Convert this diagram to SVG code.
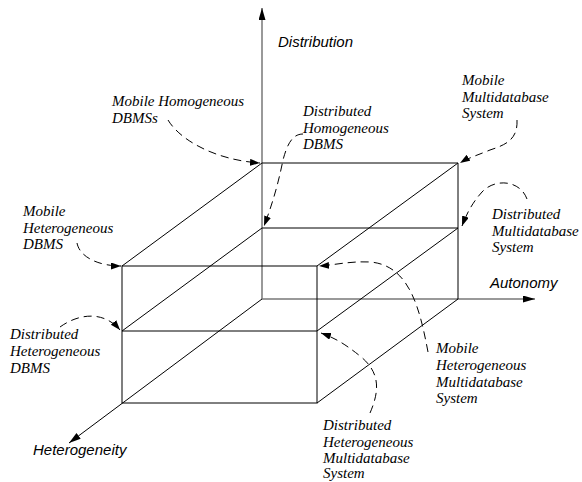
<svg xmlns="http://www.w3.org/2000/svg" width="582" height="482" viewBox="0 0 582 482">
<defs>
<style>
.lbl{font-family:"Liberation Serif","Times New Roman",serif;font-style:italic;font-size:15px;fill:#000}
.ax{font-family:"Liberation Sans",Arial,sans-serif;font-style:italic;font-size:15px;fill:#000}
.edge{stroke:#000;stroke-width:1;fill:none}
.axis{stroke:#777;stroke-width:1.5;fill:none}
.conn{stroke:#000;stroke-width:1;fill:none;stroke-dasharray:8 5}
</style>
<marker id="arr" markerUnits="userSpaceOnUse" markerWidth="11" markerHeight="8" refX="10" refY="3.5" orient="auto">
<path d="M0,0 L10,3.5 L0,7 z" fill="#000"/>
</marker>
<marker id="axarr" markerUnits="userSpaceOnUse" markerWidth="13" markerHeight="8" refX="12" refY="3.5" orient="auto">
<path d="M0,0 L12,3.5 L0,7 z" fill="#000"/>
</marker>
</defs>
<rect width="582" height="482" fill="#fff"/>

<g id="axes">
<line class="axis" x1="262" y1="299" x2="262" y2="8" marker-end="url(#axarr)"/>
<line class="axis" x1="262" y1="299" x2="535" y2="299" marker-end="url(#axarr)"/>
<line class="edge" x1="262" y1="299" x2="69" y2="443" marker-end="url(#axarr)"/>
<text id="distribution" class="ax" x="278" y="47">Distribution</text>
<text id="autonomy" class="ax" x="490" y="288">Autonomy</text>
<text id="heterogeneity" class="ax" x="33" y="455">Heterogeneity</text>
</g>

<g id="cube">
<polyline class="edge" points="262,163 458,163 458,299"/>
<line class="edge" x1="262" y1="228" x2="458" y2="228"/>
<rect class="edge" x="122" y="266" width="195" height="137"/>
<line class="edge" x1="122" y1="331" x2="317" y2="331"/>
<line class="edge" x1="262" y1="163" x2="122" y2="266"/>
<line class="edge" x1="458" y1="163" x2="317" y2="266"/>
<line class="edge" x1="262" y1="228" x2="122" y2="331"/>
<line class="edge" x1="458" y1="228" x2="317" y2="331"/>
<line class="edge" x1="458" y1="299" x2="317" y2="403"/>
</g>

<g id="connectors">
<path class="conn" d="M168,120 C180,140 215,160 260,163" marker-end="url(#arr)"/>
<path class="conn" d="M303,134 C292,134 287,145 283,160 C278,185 272,205 264,226" marker-end="url(#arr)"/>
<path class="conn" d="M517,120 C518,140 505,145 490,150 C478,155 468,158 460,163" marker-end="url(#arr)"/>
<path class="conn" d="M527,199 C520,180 495,178 482,192 C472,203 466,215 462,226" marker-end="url(#arr)"/>
<path class="conn" d="M77,243 C80,258 100,266 121,266" marker-end="url(#arr)"/>
<path class="conn" d="M60,327 C78,314 103,310 120,330" marker-end="url(#arr)"/>
<path class="conn" d="M428,352 C420,310 410,265 370,262 C350,261 335,265 319,266" marker-end="url(#arr)"/>
<path class="conn" d="M370,413 C380,390 380,372 360,356 C345,344 335,338 321,333" marker-end="url(#arr)"/>
</g>

<g id="mobile-homogeneous-dbmss">
<text class="lbl" x="112" y="106">Mobile Homogeneous</text>
<text class="lbl" x="112" y="123">DBMSs</text>
</g>
<g id="distributed-homogeneous-dbms">
<text class="lbl" x="303" y="116">Distributed</text>
<text class="lbl" x="303" y="133">Homogeneous</text>
<text class="lbl" x="303" y="149">DBMS</text>
</g>
<g id="mobile-multidatabase-system">
<text class="lbl" x="462" y="85">Mobile</text>
<text class="lbl" x="462" y="101.5">Multidatabase</text>
<text class="lbl" x="462" y="118">System</text>
</g>
<g id="distributed-multidatabase-system">
<text class="lbl" x="492" y="219">Distributed</text>
<text class="lbl" x="492" y="236">Multidatabase</text>
<text class="lbl" x="492" y="252">System</text>
</g>
<g id="mobile-heterogeneous-dbms">
<text class="lbl" x="23" y="216">Mobile</text>
<text class="lbl" x="23" y="233">Heterogeneous</text>
<text class="lbl" x="23" y="249">DBMS</text>
</g>
<g id="distributed-heterogeneous-dbms">
<text class="lbl" x="10" y="339">Distributed</text>
<text class="lbl" x="10" y="356">Heterogeneous</text>
<text class="lbl" x="10" y="373">DBMS</text>
</g>
<g id="mobile-heterogeneous-multidatabase-system">
<text class="lbl" x="436" y="353">Mobile</text>
<text class="lbl" x="436" y="370">Heterogeneous</text>
<text class="lbl" x="436" y="387">Multidatabase</text>
<text class="lbl" x="436" y="403">System</text>
</g>
<g id="distributed-heterogeneous-multidatabase-system">
<text class="lbl" x="323" y="430">Distributed</text>
<text class="lbl" x="323" y="447">Heterogeneous</text>
<text class="lbl" x="323" y="463">Multidatabase</text>
<text class="lbl" x="323" y="478">System</text>
</g>
</svg>
